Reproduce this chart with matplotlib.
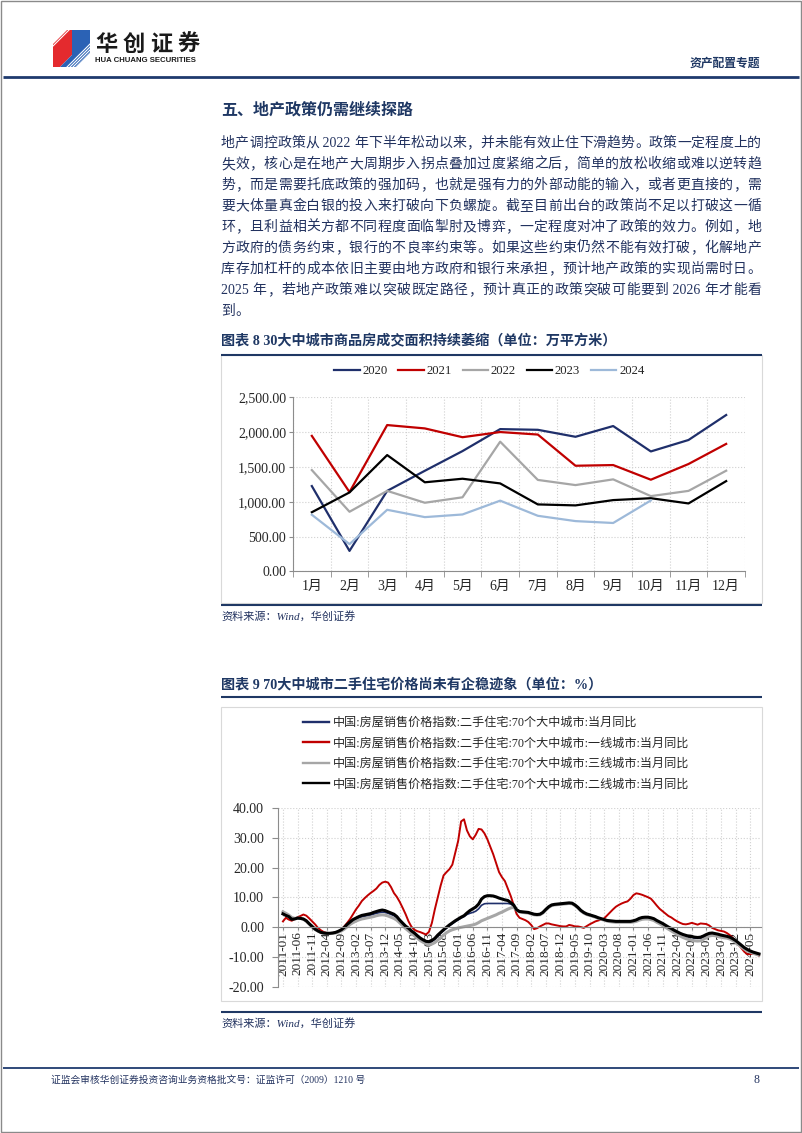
import re

import matplotlib
matplotlib.use("Agg")
import matplotlib.pyplot as plt
import pandas as pd
from matplotlib.lines import Line2D
from matplotlib.patches import Polygon, Rectangle
from matplotlib.ticker import FixedLocator, FuncFormatter, MultipleLocator

plt.rcParams["font.family"] = ["Liberation Serif", "Noto Sans CJK SC"]
plt.rcParams["axes.unicode_minus"] = False

W, H = 802, 1133
NAVY = "#1F3864"
TEXT_BLUE = "#22325F"
AXIS_GRAY = "#8C8C8C"
GRID = "#D0D0D0"
TICK_TXT = "#262626"

# ---------------- 图表8：30大中城市商品房成交面积（万平方米）
MONTHS = ["1月", "2月", "3月", "4月", "5月", "6月", "7月", "8月", "9月", "10月", "11月", "12月"]
YEARS = ["2020", "2021", "2022", "2023", "2024"]
AREA_2020 = [1224, 295, 1155, 1443, 1725, 2040, 2030, 1930, 2084, 1720, 1884, 2242]
AREA_2021 = [1943, 1138, 2098, 2050, 1924, 1998, 1962, 1515, 1525, 1315, 1540, 1828]
AREA_2022 = [1453, 856, 1155, 985, 1063, 1860, 1312, 1238, 1320, 1080, 1155, 1444]
AREA_2023 = [849, 1133, 1668, 1278, 1329, 1262, 961, 947, 1023, 1050, 975, 1295]
AREA_2024 = [813, 392, 884, 779, 817, 1015, 798, 722, 695, 1018]
AREA_COLORS = ["#1F2F6B", "#C00000", "#A6A6A6", "#000000", "#9DB9D9"]

# ---------------- 图表9：70大中城市二手住宅价格当月同比（%）
DATE_START, DATE_END = "2011-01", "2024-08"
SERIES_NAMES = [
    "中国:房屋销售价格指数:二手住宅:70个大中城市:当月同比",
    "中国:房屋销售价格指数:二手住宅:70个大中城市:一线城市:当月同比",
    "中国:房屋销售价格指数:二手住宅:70个大中城市:三线城市:当月同比",
    "中国:房屋销售价格指数:二手住宅:70个大中城市:二线城市:当月同比",
]
PRICE_70 = [
    4.7, 4.2, 3.7, 2.9, 2.8, 3.0, 2.9, 2.6, 2.0, 1.1,
    0.2, -0.6, -1.2, -1.7, -1.9, -2.0, -2.0, -1.9, -1.8, -1.4,
    -0.9, -0.2, 0.7, 1.5, 2.2, 2.7, 3.1, 3.5, 3.7, 3.9,
    4.1, 4.4, 4.7, 4.9, 5.1, 5.0, 4.7, 4.3, 3.9, 3.2,
    2.1, 1.1, 0.1, -0.7, -1.5, -2.2, -3.0, -3.8, -4.4, -4.9,
    -5.1, -4.7, -4.0, -3.0, -2.0, -1.1, -0.3, 0.5, 1.2, 1.9,
    2.5, 3.1, 3.6, 4.3, 4.7, 5.0, 5.4, 6.2, 7.4, 7.9,
    8.0, 8.0, 8.0, 8.0, 8.0, 8.0, 8.0, 8.0, 7.8, 7.2,
    5.9, 5.3, 5.2, 5.0, 4.9, 4.6, 4.3, 4.2, 4.3, 4.9,
    5.9, 6.8, 7.4, 7.6, 7.7, 7.8, 7.9, 8.0, 8.1, 8.0,
    7.4, 6.6, 5.6, 4.9, 4.4, 4.1, 3.8, 3.5, 3.1, 2.8,
    2.5, 2.2, 2.1, 2.0, 1.9, 1.9, 1.9, 1.9, 1.9, 1.9,
    2.0, 2.3, 2.8, 3.1, 3.2, 3.2, 3.0, 2.7, 2.1, 1.6,
    1.1, 0.5, -0.1, -0.6, -1.2, -1.7, -2.2, -2.6, -2.9, -3.2,
    -3.4, -3.6, -3.7, -3.6, -3.2, -2.7, -2.3, -2.1, -2.3, -2.6,
    -2.9, -3.1, -3.2, -3.5, -4.0, -4.6, -5.4, -6.2, -7.0, -7.6,
    -8.1, -8.5, -8.8, -9.1,
]
PRICE_T1 = [
    2.0, 3.2, 2.6, 2.2, 2.8, 3.4, 3.8, 4.3, 3.9, 3.0,
    2.0, 1.0, -0.2, -1.0, -1.6, -1.9, -2.0, -1.9, -1.7, -1.5,
    -0.8, 0.3, 1.5, 2.8, 4.4, 6.0, 7.3, 8.8, 9.8, 10.7,
    11.5, 12.2, 13.0, 14.2, 15.0, 15.3, 15.0, 13.5, 11.5, 10.2,
    8.5, 6.5, 4.4, 2.0, 0.2, -0.8, -1.3, -1.6, -2.0, -2.4,
    -1.5, 1.5, 6.0, 10.0, 14.0, 17.4, 18.5, 19.5, 21.0, 25.0,
    29.0, 35.5, 36.2, 32.5, 30.5, 29.5, 31.0, 33.0, 32.8, 31.5,
    29.5, 27.0, 24.5, 21.5, 18.5, 16.8, 15.5, 13.0, 10.5, 7.5,
    4.5, 3.2, 2.8, 2.4, 1.8, 0.8, -0.6, -0.3, 0.3, 0.8,
    1.3, 1.3, 1.0, 0.8, 0.6, 0.4, 0.3, 0.3, 0.8, 0.6,
    0.3, 0.3, 0.1, -0.2, 0.4, 1.0, 1.5, 2.0, 2.3, 2.6,
    3.0, 4.0, 5.0, 6.0, 6.9, 7.5, 8.0, 8.4, 8.7, 9.6,
    10.8, 11.4, 11.2, 10.9, 10.5, 10.1, 9.6, 8.5, 7.3, 6.2,
    5.4, 4.6, 3.8, 3.3, 2.6, 2.0, 1.5, 1.1, 1.0, 1.2,
    1.5, 1.2, 0.9, 1.3, 1.2, 1.1, 0.6, -0.2, -0.6, -1.0,
    -1.2, -1.4, -1.9, -2.6, -3.5, -4.6, -5.8, -7.0, -8.2, -9.0,
    -9.0, -8.8, -9.0, -9.5,
]
PRICE_T3 = [
    5.2, 4.7, 4.1, 3.3, 3.0, 3.1, 3.0, 2.7, 2.0, 1.1,
    0.1, -0.7, -1.3, -1.8, -2.0, -2.1, -2.1, -2.0, -1.9, -1.6,
    -1.2, -0.6, 0.2, 1.0, 1.6, 2.1, 2.5, 2.8, 3.0, 3.2,
    3.4, 3.6, 3.9, 4.1, 4.2, 4.1, 3.8, 3.4, 3.0, 2.4,
    1.5, 0.6, -0.4, -1.2, -2.0, -2.8, -3.6, -4.4, -5.0, -5.5,
    -5.8, -5.6, -5.1, -4.3, -3.4, -2.6, -1.8, -1.2, -0.8, -0.5,
    -0.2, 0.0, 0.2, 0.4, 0.6, 0.8, 1.1, 1.6, 2.2, 2.6,
    3.0, 3.4, 3.8, 4.2, 4.7, 5.1, 5.6, 6.1, 6.5, 6.7,
    5.8, 5.2, 5.0, 4.9, 4.8, 4.5, 4.2, 4.1, 4.2, 4.8,
    5.8, 6.7, 7.3, 7.5, 7.6, 7.7, 7.8, 7.9, 8.0, 7.9,
    7.3, 6.5, 5.5, 4.8, 4.3, 4.0, 3.7, 3.4, 3.0, 2.7,
    2.4, 2.1, 1.9, 1.8, 1.7, 1.7, 1.7, 1.7, 1.7, 1.7,
    1.8, 2.0, 2.4, 2.7, 2.8, 2.8, 2.6, 2.3, 1.7, 1.2,
    0.6, 0.0, -0.6, -1.2, -1.8, -2.4, -2.9, -3.4, -3.8, -4.1,
    -4.3, -4.5, -4.6, -4.5, -4.0, -3.4, -2.9, -2.7, -2.8, -3.1,
    -3.3, -3.5, -3.6, -3.9, -4.4, -5.0, -5.8, -6.6, -7.3, -7.9,
    -8.3, -8.7, -9.0, -9.3,
]
PRICE_T2 = [
    4.5, 4.0, 3.6, 2.7, 2.8, 3.1, 3.0, 2.8, 2.2, 1.2,
    0.3, -0.6, -1.2, -1.7, -1.9, -2.0, -2.0, -1.9, -1.7, -1.3,
    -0.8, 0.0, 1.0, 1.8, 2.6, 3.1, 3.6, 4.0, 4.2, 4.4,
    4.6, 5.0, 5.3, 5.6, 5.8, 5.6, 5.2, 4.8, 4.4, 3.6,
    2.4, 1.4, 0.4, -0.3, -1.2, -1.9, -2.8, -3.6, -4.2, -4.7,
    -4.8, -4.4, -3.7, -2.6, -1.7, -0.8, 0.0, 0.8, 1.5, 2.2,
    2.8, 3.4, 3.9, 4.8, 5.6, 6.2, 6.8, 7.8, 9.5, 10.3,
    10.6, 10.6, 10.5, 10.2, 9.8, 9.5, 9.2, 9.0, 8.3, 7.5,
    5.9, 5.3, 5.2, 5.1, 5.0, 4.7, 4.4, 4.3, 4.4, 5.0,
    6.0, 6.9, 7.5, 7.7, 7.8, 7.9, 8.0, 8.1, 8.2, 8.1,
    7.5, 6.7, 5.7, 5.0, 4.5, 4.2, 3.9, 3.6, 3.2, 2.9,
    2.6, 2.3, 2.2, 2.1, 2.0, 2.0, 2.0, 2.0, 2.0, 2.0,
    2.2, 2.5, 3.0, 3.3, 3.4, 3.4, 3.2, 2.9, 2.3, 1.8,
    1.3, 0.7, 0.1, -0.4, -1.0, -1.5, -2.0, -2.4, -2.7, -3.0,
    -3.1, -3.3, -3.4, -3.3, -2.9, -2.4, -2.0, -1.9, -2.1, -2.3,
    -2.6, -2.8, -3.0, -3.3, -3.8, -4.4, -5.2, -6.0, -6.8, -7.4,
    -7.9, -8.3, -8.6, -8.9,
]
PRICE_COLORS = ["#1F2F6B", "#C00000", "#A6A6A6", "#000000"]
PRICE_WIDTHS = [1.2, 1.4, 2.2, 2.2]

HEADING = "五、地产政策仍需继续探路"
BODY_LINES = [
    "地产调控政策从 2022 年下半年松动以来，并未能有效止住下滑趋势。政策一定程度上的",
    "失效，核心是在地产大周期步入拐点叠加过度紧缩之后，简单的放松收缩或难以逆转趋",
    "势，而是需要托底政策的强加码，也就是强有力的外部动能的输入，或者更直接的，需",
    "要大体量真金白银的投入来打破向下负螺旋。截至目前出台的政策尚不足以打破这一循",
    "环，且利益相关方都不同程度面临掣肘及博弈，一定程度对冲了政策的效力。例如，地",
    "方政府的债务约束，银行的不良率约束等。如果这些约束仍然不能有效打破，化解地产",
    "库存加杠杆的成本依旧主要由地方政府和银行来承担，预计地产政策的实现尚需时日。",
    "2025 年，若地产政策难以突破既定路径，预计真正的政策突破可能要到 2026 年才能看",
    "到。",
]
TITLE_8 = "图表 8 30大中城市商品房成交面积持续萎缩（单位：万平方米）"
TITLE_9 = "图表 9 70大中城市二手住宅价格尚未有企稳迹象（单位：%）"
SOURCE = "资料来源：Wind，华创证券"
FOOTER = "证监会审核华创证券投资咨询业务资格批文号：证监许可（2009）1210 号"


def frac(left, top, right, bottom):
    return [left / W, 1 - bottom / H, (right - left) / W, (bottom - top) / H]


def justified(ax, text, x0, x1, y, renderer, justify=True, **kw):
    tokens = re.findall(r"\s*[0-9A-Za-z%]+\s*|\S", text)
    objs = [ax.text(x0, y, t, ha="left", va="baseline", **kw) for t in tokens]
    widths = [o.get_window_extent(renderer).width for o in objs]
    gap = 0.0
    if justify and len(objs) > 1:
        gap = (x1 - x0 - sum(widths)) / (len(objs) - 1)
    x = x0
    for o, w in zip(objs, widths):
        o.set_x(x)
        x += w + gap


def main():
    fig = plt.figure(figsize=(W / 100, H / 100), dpi=100)
    renderer = fig.canvas.get_renderer()

    page = fig.add_axes([0, 0, 1, 1])
    page.set_xlim(0, W)
    page.set_ylim(H, 0)
    page.axis("off")

    # page border
    page.add_patch(Rectangle((1, 1), W - 2, H - 2, fill=False, ec="#8A8A8A", lw=1.0))

    # logo
    red = Polygon([(53, 44), (67, 30), (72, 30), (72, 55), (60, 67), (53, 67)],
                  closed=True, fc="#E42A2E", ec="none")
    blue = Polygon([(72, 30), (90, 30), (90, 53), (76, 67), (60, 67), (72, 55)],
                   closed=True, fc="#2B62B5", ec="none")
    page.add_patch(red)
    page.add_patch(blue)
    for c in range(84, 100, 3):
        ln, = page.plot([45, 100], [c - 45, c - 100], color="white", lw=0.8)
        ln.set_clip_path(red)
    for c in range(134, 152, 3):
        ln, = page.plot([45, 100], [c - 45, c - 100], color="white", lw=0.8)
        ln.set_clip_path(blue)
    justified(page, "华创证券", 95, 200, 51, renderer, fontsize=16, fontweight="bold",
              color="#1A1A1A", family=["Noto Sans CJK SC"])
    page.text(95, 60.5, "HUA CHUANG SECURITIES", ha="left", va="center", fontsize=5.6,
              fontweight="bold", color="#1A1A1A", family=["Liberation Sans"])
    page.text(760, 63, "资产配置专题", ha="right", va="center", fontsize=8.5,
              fontweight="bold", color=NAVY, family=["Noto Sans CJK SC"])
    page.plot([3, 799], [76.5, 76.5], color="#1F3A6E", lw=2.0, solid_capstyle="butt")

    # heading and body text
    page.text(221, 111, HEADING, ha="left", va="center", fontsize=11.5,
              fontweight="bold", color=NAVY)
    for k, line in enumerate(BODY_LINES):
        y = 142 + 21 * k + 5
        justified(page, line, 221, 761, y, renderer,
                  justify=(k < len(BODY_LINES) - 1), fontsize=10, color=TEXT_BLUE)

    # chart 8 frame
    page.text(221, 341, TITLE_8, ha="left", va="center", fontsize=10.2,
              fontweight="bold", color=NAVY)
    page.add_patch(Rectangle((221, 355), 541, 248, fill=False, ec="#D9D9D9", lw=0.8))
    page.plot([221, 762], [354.5, 354.5], color=NAVY, lw=1.5, solid_capstyle="butt")
    page.plot([221, 762], [604.5, 604.5], color=NAVY, lw=1.5, solid_capstyle="butt")
    page.text(221, 616, SOURCE, ha="left", va="center", fontsize=8,
              style="italic", color=TEXT_BLUE)

    # chart 9 frame
    page.text(221, 685, TITLE_9, ha="left", va="center", fontsize=10.2,
              fontweight="bold", color=NAVY)
    page.plot([221, 762], [697, 697], color=NAVY, lw=1.5, solid_capstyle="butt")
    page.add_patch(Rectangle((221, 707), 541, 294, fill=False, ec="#D9D9D9", lw=0.8))
    page.plot([221, 762], [1011.5, 1011.5], color=NAVY, lw=1.5, solid_capstyle="butt")
    page.text(221, 1023, SOURCE, ha="left", va="center", fontsize=8,
              style="italic", color=TEXT_BLUE)

    # footer
    page.plot([3, 799], [1068, 1068], color="#1F3A6E", lw=1.3, solid_capstyle="butt")
    page.text(51, 1080, FOOTER, ha="left", va="center", fontsize=7, color=TEXT_BLUE)
    page.text(756, 1080, "8", ha="center", va="center", fontsize=8.5, color=TEXT_BLUE)

    # ---------- chart 8
    ax1 = fig.add_axes(frac(293, 397, 745, 571.5))
    ax1.set_facecolor("none")
    series1 = [AREA_2020, AREA_2021, AREA_2022, AREA_2023, AREA_2024]
    for name, vals, color in zip(YEARS, series1, AREA_COLORS):
        ax1.plot(range(len(vals)), vals, color=color, lw=1.6, label=name)
    ax1.set_xlim(-0.5, len(MONTHS) - 0.5)
    ax1.set_ylim(0, 2500)
    ax1.yaxis.set_major_locator(MultipleLocator(500))
    ax1.yaxis.set_major_formatter(FuncFormatter(lambda v, _: f"{v:,.2f}"))
    ax1.set_xticks(range(len(MONTHS)))
    ax1.set_xticklabels(MONTHS)
    ax1.xaxis.set_minor_locator(FixedLocator([k - 0.5 for k in range(len(MONTHS) + 1)]))
    ax1.tick_params(axis="x", which="major", length=0, pad=6, labelsize=10, labelcolor=TICK_TXT)
    ax1.tick_params(axis="x", which="minor", length=4, color=AXIS_GRAY)
    ax1.tick_params(axis="y", length=3, pad=2, labelsize=10, color=AXIS_GRAY, labelcolor=TICK_TXT)
    ax1.grid(axis="y", which="major", ls=":", color=GRID, lw=0.8)
    ax1.grid(axis="x", which="minor", ls=":", color=GRID, lw=0.8)
    for s in ("top", "right"):
        ax1.spines[s].set_visible(False)
    for s in ("left", "bottom"):
        ax1.spines[s].set_color(AXIS_GRAY)
    ax1.legend(loc="center left", bbox_to_anchor=(334 / W, 1 - 371 / H),
               bbox_transform=fig.transFigure, ncol=5, frameon=False, fontsize=9.2,
               handlelength=2.0, handletextpad=0.2, columnspacing=0.85,
               borderpad=0, borderaxespad=0, labelcolor=TICK_TXT)

    # ---------- chart 9
    dates = pd.period_range(DATE_START, DATE_END, freq="M").strftime("%Y-%m")
    ax2 = fig.add_axes(frac(278, 808, 761, 987))
    ax2.set_facecolor("none")
    ax2.spines["bottom"].set_position(("data", 0))
    series2 = [PRICE_70, PRICE_T1, PRICE_T3, PRICE_T2]
    for name, vals, color, lw in zip(SERIES_NAMES, series2, PRICE_COLORS, PRICE_WIDTHS):
        ax2.plot(range(len(vals)), vals, color=color, lw=lw, label=name)
    ax2.set_xlim(-1.7, len(dates) - 0.3)
    ax2.set_ylim(-20, 40)
    ax2.yaxis.set_major_locator(MultipleLocator(10))
    ax2.yaxis.set_major_formatter(FuncFormatter(lambda v, _: f"{v:.2f}"))
    ticks = list(range(0, len(dates), 5))
    ax2.xaxis.set_major_locator(FixedLocator(ticks))
    ax2.xaxis.set_major_formatter(FuncFormatter(lambda v, _: dates[int(round(v))]))
    ax2.tick_params(axis="x", length=2, pad=1, labelsize=9.5, labelrotation=90,
                    color=AXIS_GRAY, labelcolor=TICK_TXT)
    ax2.tick_params(axis="y", length=4, pad=6, labelsize=10, color=AXIS_GRAY, labelcolor=TICK_TXT)
    ax2.grid(True, ls=":", color=GRID, lw=0.8)
    for s in ("top", "right"):
        ax2.spines[s].set_visible(False)
    for s in ("left", "bottom"):
        ax2.spines[s].set_color(AXIS_GRAY)
    handles = [Line2D([], [], color=c, lw=1.7) for c in PRICE_COLORS]
    ax2.legend(handles, SERIES_NAMES, loc="upper left", bbox_to_anchor=(303 / W, 1 - 717 / H),
               bbox_transform=fig.transFigure, ncol=1, frameon=False, fontsize=8.7,
               handlelength=2.15, handletextpad=0.3, labelspacing=0.7,
               borderpad=0, borderaxespad=0, labelcolor=TICK_TXT)

    fig.savefig("out.png", dpi=100)


if __name__ == "__main__":
    main()
